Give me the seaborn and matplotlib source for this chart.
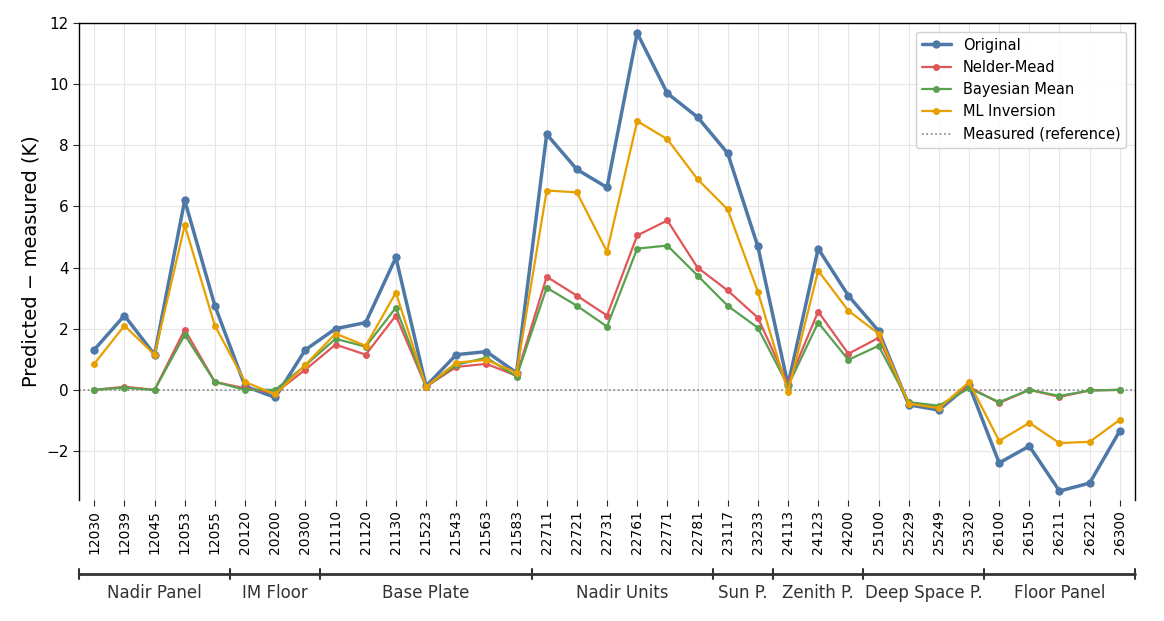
import numpy as np
import pandas as pd
import seaborn as sns
import matplotlib.pyplot as plt

# panel sensor ids and their groups
sensors = ["12030", "12039", "12045", "12053", "12055",
           "20120", "20200", "20300",
           "21110", "21120", "21130", "21523", "21543", "21563", "21583",
           "22711", "22721", "22731", "22761", "22771", "22781",
           "23117", "23233",
           "24113", "24123", "24200",
           "25100", "25229", "25249", "25320",
           "26100", "26150", "26211", "26221", "26300"]
groups = ["Nadir Panel", "IM Floor", "Base Plate", "Nadir Units", "Sun P.",
          "Zenith P.", "Deep Space P.", "Floor Panel"]
group_sizes = [5, 3, 7, 6, 2, 3, 4, 5]

# predicted - measured (K)
original = [1.31, 2.43, 1.15, 6.2, 2.75, 0.12, -0.25, 1.31, 2.0, 2.2, 4.33, 0.12, 1.15, 1.25, 0.56,
            8.36, 7.21, 6.62, 11.67, 9.7, 8.92, 7.74, 4.69, 0.16, 4.62, 3.08, 1.93, -0.49, -0.66, 0.16,
            -2.39, -1.84, -3.31, -3.05, -1.34]
nelder_mead = [0.0, 0.1, 0.0, 1.97, 0.26, 0.05, -0.1, 0.66, 1.48, 1.15, 2.43, 0.1, 0.75, 0.85, 0.46,
               3.7, 3.08, 2.43, 5.05, 5.54, 4.0, 3.25, 2.36, 0.2, 2.56, 1.18, 1.7, -0.42, -0.55, 0.1,
               -0.43, 0.0, -0.23, -0.02, 0.0]
bayesian = [0.0, 0.07, 0.0, 1.8, 0.26, 0.0, 0.0, 0.8, 1.67, 1.41, 2.69, 0.1, 0.82, 1.05, 0.43,
            3.34, 2.75, 2.07, 4.62, 4.72, 3.74, 2.75, 2.03, 0.13, 2.2, 0.98, 1.44, -0.4, -0.52, 0.05,
            -0.4, 0.0, -0.2, -0.02, 0.0]
ml_inversion = [0.85, 2.1, 1.15, 5.38, 2.1, 0.26, -0.15, 0.82, 1.84, 1.44, 3.18, 0.1, 0.89, 0.98, 0.56,
                6.52, 6.46, 4.52, 8.79, 8.2, 6.89, 5.9, 3.21, -0.07, 3.9, 2.59, 1.84, -0.45, -0.6, 0.25,
                -1.67, -1.08, -1.74, -1.7, -0.98]

sns.set_style("white")
plt.rcParams['font.family'] = ['DejaVu Sans']

df = pd.DataFrame({"pos": np.arange(len(sensors)), "Original": original,
                   "Nelder-Mead": nelder_mead, "Bayesian Mean": bayesian,
                   "ML Inversion": ml_inversion})

fig, ax = plt.subplots(figsize=(11.64, 6.21), dpi=100)
fig.subplots_adjust(left=0.068, right=0.975, top=0.963, bottom=0.195)

styles = [("Original", "#4e79a7", 2.5, 6),
          ("Nelder-Mead", "#e05759", 1.6, 5),
          ("Bayesian Mean", "#59a14f", 1.6, 5),
          ("ML Inversion", "#e8a000", 1.6, 5)]
for name, col, lw, ms in styles:
    sns.lineplot(data=df, x="pos", y=name, ax=ax, color=col, linewidth=lw,
                 marker="o", markersize=ms, markeredgewidth=0, label=name, zorder=3)

ax.axhline(0, color="gray", linestyle=":", linewidth=1.2, label="Measured (reference)", zorder=2)

ax.set_xlim(-0.5, len(sensors) - 0.5)
ax.set_ylim(-3.6, 12)
ax.set_xticks(df["pos"])
ax.set_xticklabels(sensors, rotation=90, fontsize=10)
ax.tick_params(axis="y", labelsize=11, left=True, length=4, labelcolor="black")
ax.tick_params(axis="x", bottom=True, length=4, labelcolor="black")
ax.set_xlabel("")
ax.set_ylabel("Predicted \u2212 measured (K)", fontsize=14, color="black")
ax.grid(True, color="#e6e6e6", linewidth=0.8)
ax.set_axisbelow(True)
for s in ["left", "top", "right"]:
    ax.spines[s].set_color("black")
    ax.spines[s].set_linewidth(1.0)
ax.spines["bottom"].set_visible(False)

leg = ax.legend(loc="upper right", fontsize=10.5, framealpha=0.9, borderaxespad=0.6)
for t in leg.get_texts():
    t.set_color("black")

# group brackets under the tick labels
trans = ax.get_xaxis_transform()
edges = np.concatenate([[0], np.cumsum(group_sizes)]) - 0.5
y_br = -0.155
ax.plot([edges[0], edges[-1]], [y_br, y_br], transform=trans, color="#333333",
        linewidth=2, clip_on=False)
for e in edges:
    ax.plot([e, e], [y_br - 0.01, y_br + 0.01], transform=trans, color="#333333",
            linewidth=1.5, clip_on=False)
for g, a, b in zip(groups, edges[:-1], edges[1:]):
    ax.text((a + b) / 2, y_br - 0.04, g, transform=trans, ha="center", va="center",
            fontsize=12, color="#333333")

fig.savefig("out.png", dpi=100)
